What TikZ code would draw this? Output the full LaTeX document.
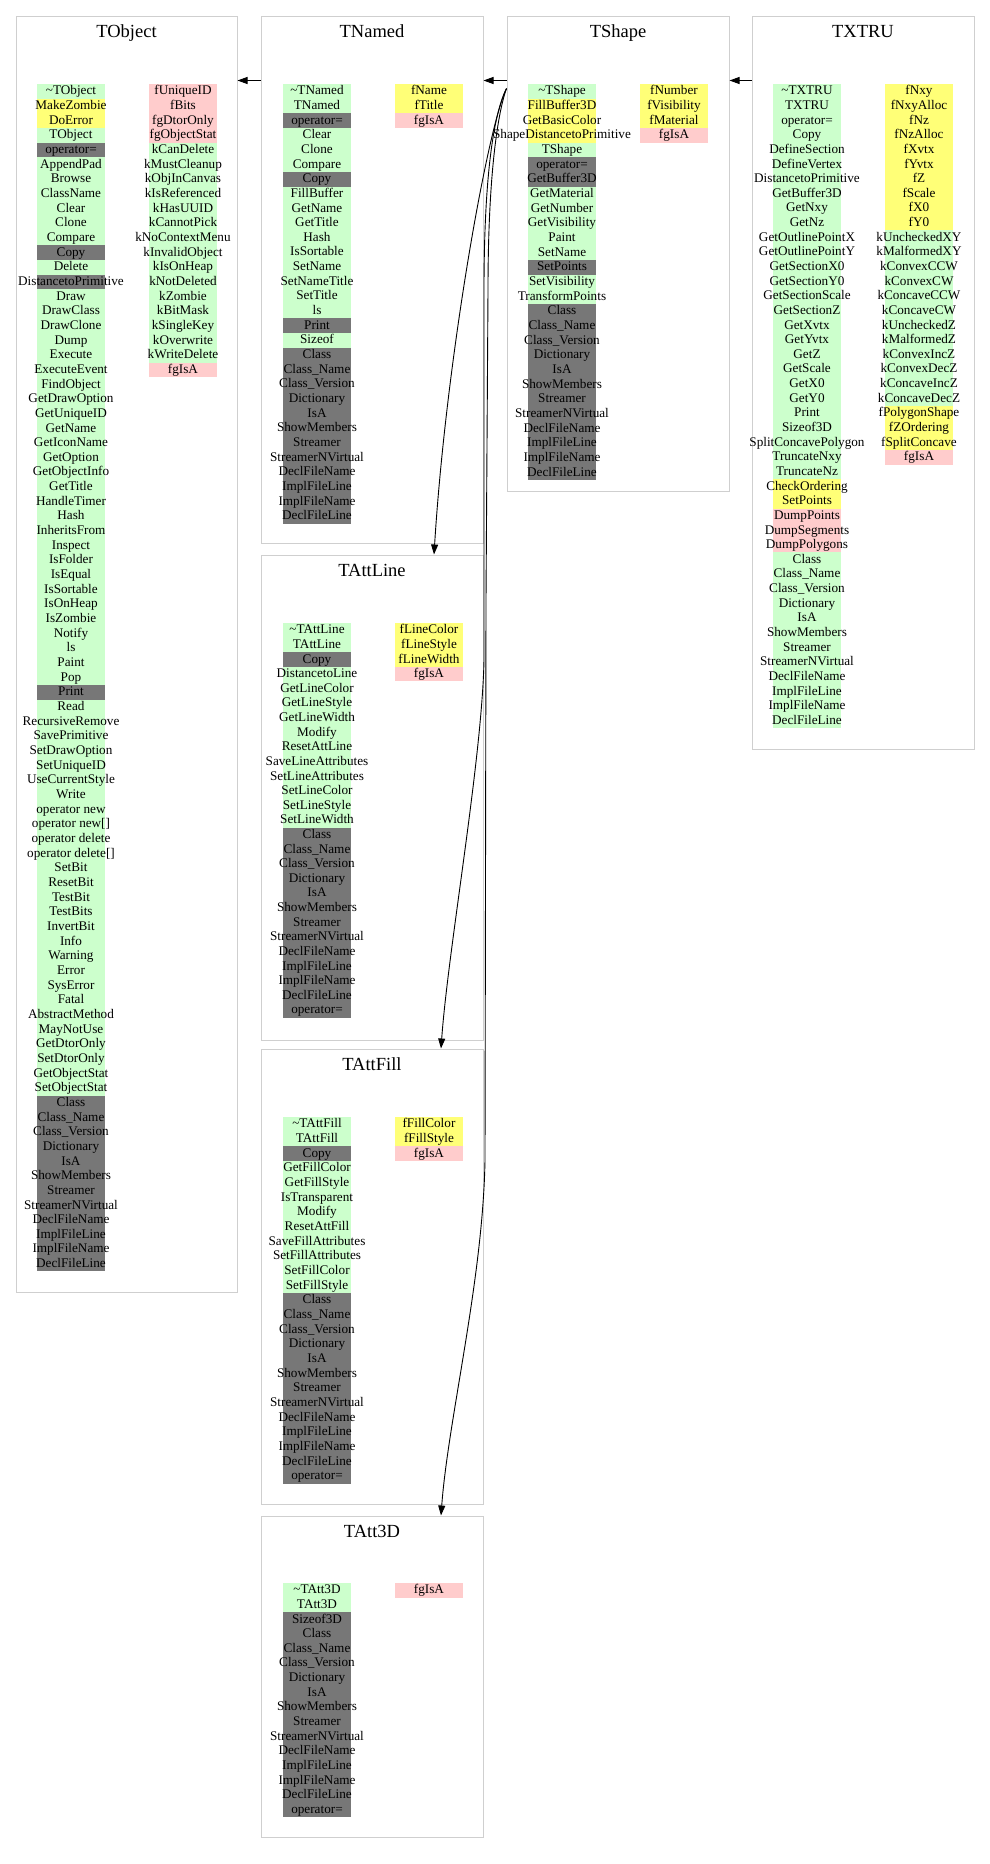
\documentclass[tikz,border=0pt]{standalone}
\usepackage{fontspec}
\setmainfont{Liberation Serif}
\usetikzlibrary{arrows.meta,fit}
%%% cell colours: public, protected, private, inherited
\definecolor{G}{HTML}{CCFFCC}
\definecolor{Y}{HTML}{FFFF77}
\definecolor{P}{HTML}{FFCCCC}
\definecolor{D}{HTML}{777777}
\definecolor{framegray}{HTML}{CFCFCF}
%%% one column of member cells: name, x left, y top, row height, list
\newcommand{\memcol}[5]{%
  \foreach \fc/\txt [count=\i] in {#5}{
    \node[memcell, fill=\fc, minimum height=#4pt] (#1\i) at (#2+34, #3+\i*#4-#4/2) {\makebox[68pt]{\txt}};
  }}

\begin{document}
\begin{tikzpicture}[x=1pt, y=-1pt,
  memcell/.style={inner sep=0pt, outer sep=0pt, text height=10pt, text depth=3pt, font=\fontsize{13.2}{14}\selectfont},
  clsbox/.style={draw=framegray, line width=1pt, inner sep=0pt},
  clstitle/.style={anchor=base, font=\fontsize{18.5}{20}\selectfont},
  inherit/.style={draw=black, line width=0.9pt, -{Triangle[length=10pt,width=7pt]}}]
\useasboundingbox (0,0) rectangle (989,1864);
%%% class frames
\node[clsbox, fit={(16,16) (237,1292)}] (tobject) {};
\node[clsbox, fit={(261,16) (483,543)}] (tnamed) {};
\node[clsbox, fit={(507,16) (729,491)}] (tshape) {};
\node[clsbox, fit={(752,16) (974,749)}] (txtru) {};
\node[clsbox, fit={(261,555) (483,1040)}] (tattline) {};
\node[clsbox, fit={(261,1049) (483,1504)}] (tattfill) {};
\node[clsbox, fit={(261,1516) (483,1837)}] (tatt3d) {};
\node[clstitle] (tobject-t) at ([yshift=-21.7pt]tobject.north) {TObject};
\node[clstitle] (tnamed-t) at ([yshift=-21.7pt]tnamed.north) {TNamed};
\node[clstitle] (tshape-t) at ([yshift=-21.7pt]tshape.north) {TShape};
\node[clstitle] (txtru-t) at ([yshift=-21.7pt]txtru.north) {TXTRU};
\node[clstitle] (tattline-t) at ([yshift=-21.7pt]tattline.north) {TAttLine};
\node[clstitle] (tattfill-t) at ([yshift=-21.7pt]tattfill.north) {TAttFill};
\node[clstitle] (tatt3d-t) at ([yshift=-21.7pt]tatt3d.north) {TAtt3D};
%%%%%%%%%%%%%%%%%%%%% TObject
\memcol{tobjm}{37}{84}{14.66}{G/{\textasciitilde TObject}, Y/MakeZombie, Y/DoError, G/TObject, D/{operator=}, G/AppendPad, G/Browse, G/ClassName, G/Clear, G/Clone, G/Compare, D/Copy, G/Delete, D/DistancetoPrimitive, G/Draw, G/DrawClass, G/DrawClone, G/Dump, G/Execute, G/ExecuteEvent, G/FindObject, G/GetDrawOption, G/GetUniqueID, G/GetName, G/GetIconName, G/GetOption, G/GetObjectInfo, G/GetTitle, G/HandleTimer, G/Hash, G/InheritsFrom, G/Inspect, G/IsFolder, G/IsEqual, G/IsSortable, G/IsOnHeap, G/IsZombie, G/Notify, G/ls, G/Paint, G/Pop, D/Print, G/Read, G/RecursiveRemove, G/SavePrimitive, G/SetDrawOption, G/SetUniqueID, G/UseCurrentStyle, G/Write, G/{operator new}, G/{operator new[]}, G/{operator delete}, G/{operator delete[]}, G/SetBit, G/ResetBit, G/TestBit, G/TestBits, G/InvertBit, G/Info, G/Warning, G/Error, G/SysError, G/Fatal, G/AbstractMethod, G/MayNotUse, G/GetDtorOnly, G/SetDtorOnly, G/GetObjectStat, G/SetObjectStat, D/Class, D/{Class\_Name}, D/{Class\_Version}, D/Dictionary, D/IsA, D/ShowMembers, D/Streamer, D/StreamerNVirtual, D/DeclFileName, D/ImplFileLine, D/ImplFileName, D/DeclFileLine}
\memcol{tobjf}{149}{84}{14.66}{P/fUniqueID, P/fBits, P/fgDtorOnly, P/fgObjectStat, G/kCanDelete, G/kMustCleanup, G/kObjInCanvas, G/kIsReferenced, G/kHasUUID, G/kCannotPick, G/kNoContextMenu, G/kInvalidObject, G/kIsOnHeap, G/kNotDeleted, G/kZombie, G/kBitMask, G/kSingleKey, G/kOverwrite, G/kWriteDelete, P/fgIsA}
%%%%%%%%%%%%%%%%%%%%% TNamed
\memcol{tnamm}{283}{84}{14.65}{G/{\textasciitilde TNamed}, G/TNamed, D/{operator=}, G/Clear, G/Clone, G/Compare, D/Copy, G/FillBuffer, G/GetName, G/GetTitle, G/Hash, G/IsSortable, G/SetName, G/SetNameTitle, G/SetTitle, G/ls, D/Print, G/Sizeof, D/Class, D/{Class\_Name}, D/{Class\_Version}, D/Dictionary, D/IsA, D/ShowMembers, D/Streamer, D/StreamerNVirtual, D/DeclFileName, D/ImplFileLine, D/ImplFileName, D/DeclFileLine}
\memcol{tnamf}{395}{84}{14.65}{Y/fName, Y/fTitle, P/fgIsA}
%%%%%%%%%%%%%%%%%%%%% TShape
\memcol{tshpm}{528}{84}{14.67}{G/{\textasciitilde TShape}, Y/FillBuffer3D, Y/GetBasicColor, Y/ShapeDistancetoPrimitive, G/TShape, D/{operator=}, D/GetBuffer3D, G/GetMaterial, G/GetNumber, G/GetVisibility, G/Paint, G/SetName, D/SetPoints, G/SetVisibility, G/TransformPoints, D/Class, D/{Class\_Name}, D/{Class\_Version}, D/Dictionary, D/IsA, D/ShowMembers, D/Streamer, D/StreamerNVirtual, D/DeclFileName, D/ImplFileLine, D/ImplFileName, D/DeclFileLine}
\memcol{tshpf}{640}{84}{14.67}{Y/fNumber, Y/fVisibility, Y/fMaterial, P/fgIsA}
%%%%%%%%%%%%%%%%%%%%% TXTRU
\memcol{txtrm}{773}{84}{14.64}{G/{\textasciitilde TXTRU}, G/TXTRU, G/{operator=}, G/Copy, G/DefineSection, G/DefineVertex, G/DistancetoPrimitive, G/GetBuffer3D, G/GetNxy, G/GetNz, G/GetOutlinePointX, G/GetOutlinePointY, G/GetSectionX0, G/GetSectionY0, G/GetSectionScale, G/GetSectionZ, G/GetXvtx, G/GetYvtx, G/GetZ, G/GetScale, G/GetX0, G/GetY0, G/Print, G/Sizeof3D, G/SplitConcavePolygon, G/TruncateNxy, G/TruncateNz, Y/CheckOrdering, Y/SetPoints, P/DumpPoints, P/DumpSegments, P/DumpPolygons, G/Class, G/{Class\_Name}, G/{Class\_Version}, G/Dictionary, G/IsA, G/ShowMembers, G/Streamer, G/StreamerNVirtual, G/DeclFileName, G/ImplFileLine, G/ImplFileName, G/DeclFileLine}
\memcol{txtrf}{885}{84}{14.64}{Y/fNxy, Y/fNxyAlloc, Y/fNz, Y/fNzAlloc, Y/fXvtx, Y/fYvtx, Y/fZ, Y/fScale, Y/fX0, Y/fY0, G/kUncheckedXY, G/kMalformedXY, G/kConvexCCW, G/kConvexCW, G/kConcaveCCW, G/kConcaveCW, G/kUncheckedZ, G/kMalformedZ, G/kConvexIncZ, G/kConvexDecZ, G/kConcaveIncZ, G/kConcaveDecZ, Y/fPolygonShape, Y/fZOrdering, Y/fSplitConcave, P/fgIsA}
%%%%%%%%%%%%%%%%%%%%% TAttLine
\memcol{tlinm}{283}{623}{14.62}{G/{\textasciitilde TAttLine}, G/TAttLine, D/Copy, G/DistancetoLine, G/GetLineColor, G/GetLineStyle, G/GetLineWidth, G/Modify, G/ResetAttLine, G/SaveLineAttributes, G/SetLineAttributes, G/SetLineColor, G/SetLineStyle, G/SetLineWidth, D/Class, D/{Class\_Name}, D/{Class\_Version}, D/Dictionary, D/IsA, D/ShowMembers, D/Streamer, D/StreamerNVirtual, D/DeclFileName, D/ImplFileLine, D/ImplFileName, D/DeclFileLine, D/{operator=}}
\memcol{tlinf}{395}{623}{14.62}{Y/fLineColor, Y/fLineStyle, Y/fLineWidth, P/fgIsA}
%%%%%%%%%%%%%%%%%%%%% TAttFill
\memcol{tfilm}{283}{1117}{14.67}{G/{\textasciitilde TAttFill}, G/TAttFill, D/Copy, G/GetFillColor, G/GetFillStyle, G/IsTransparent, G/Modify, G/ResetAttFill, G/SaveFillAttributes, G/SetFillAttributes, G/SetFillColor, G/SetFillStyle, D/Class, D/{Class\_Name}, D/{Class\_Version}, D/Dictionary, D/IsA, D/ShowMembers, D/Streamer, D/StreamerNVirtual, D/DeclFileName, D/ImplFileLine, D/ImplFileName, D/DeclFileLine, D/{operator=}}
\memcol{tfilf}{395}{1117}{14.67}{Y/fFillColor, Y/fFillStyle, P/fgIsA}
%%%%%%%%%%%%%%%%%%%%% TAtt3D
\memcol{t3dm}{283}{1583}{14.63}{G/{\textasciitilde TAtt3D}, G/TAtt3D, D/Sizeof3D, D/Class, D/{Class\_Name}, D/{Class\_Version}, D/Dictionary, D/IsA, D/ShowMembers, D/Streamer, D/StreamerNVirtual, D/DeclFileName, D/ImplFileLine, D/ImplFileName, D/DeclFileLine, D/{operator=}}
\memcol{t3df}{395}{1583}{14.63}{P/fgIsA}
%%%%%%%%%%%%%%%%%%%%% inheritance
\draw[inherit] ([yshift=-65pt]tnamed.north west) -- ([yshift=-65pt]tobject.north east);
\draw[inherit] ([yshift=-65pt]tshape.north west) -- ([yshift=-65pt]tnamed.north east);
\draw[inherit] ([yshift=-65pt]txtru.north west) -- ([yshift=-65pt]tshape.north east);
\coordinate (shapeout) at ([yshift=-73pt]tshape.north west);
\draw[inherit] (shapeout) .. controls (488,125) and (446,360) .. ([xshift=62pt]tattline.north);
\draw[inherit] (shapeout) .. controls (493,115) and (484,180) .. (484,290) -- (484,660)
  .. controls (482,760) and (448,950) .. ([xshift=69pt]tattfill.north);
\draw[inherit] (shapeout) .. controls (497,115) and (488,180) .. (488,290) -- (486,600) -- (485,1160)
  .. controls (483,1280) and (448,1420) .. ([xshift=69pt]tatt3d.north);
\end{tikzpicture}
\end{document}
